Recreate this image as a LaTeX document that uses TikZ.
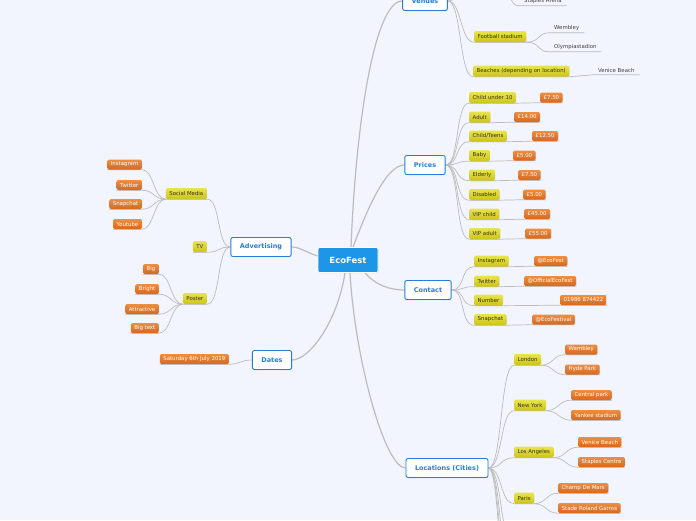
\documentclass[tikz,border=0pt]{standalone}
\usepackage{fontspec}
\setmainfont{DejaVu Sans}
\usetikzlibrary{shadows}

\definecolor{paper}{RGB}{242,245,253}
\definecolor{rootblue}{RGB}{30,150,232}
\definecolor{topicblue}{RGB}{40,125,220}
\definecolor{yellowtop}{RGB}{232,228,80}
\definecolor{yellowbot}{RGB}{205,196,22}
\definecolor{orangetop}{RGB}{238,142,64}
\definecolor{orangebot}{RGB}{212,104,32}
\definecolor{wire}{RGB}{188,188,188}
\definecolor{ink}{RGB}{55,50,20}

\pgfdeclarelayer{bg}
\pgfsetlayers{bg,main}

\tikzset{
    root/.style={fill=rootblue, draw=white, line width=0.6pt, rounded corners=2pt, minimum width=60pt, minimum height=25pt, text=white, font=\fontsize{8.5}{10}\selectfont\bfseries, drop shadow={opacity=0.15, shadow xshift=0.5pt, shadow yshift=-0.8pt}},
    topic/.style={fill=white, draw=topicblue, line width=0.9pt, rounded corners=2pt, minimum height=19pt, inner xsep=9pt, text=topicblue, font=\fontsize{6.5}{8}\selectfont\bfseries, drop shadow={opacity=0.15, shadow xshift=0.5pt, shadow yshift=-0.8pt}},
    sub/.style={top color=yellowtop, bottom color=yellowbot, rounded corners=1.5pt, minimum height=11pt, inner xsep=3.5pt, inner ysep=1pt, text=ink, font=\fontsize{5.4}{6}\selectfont, drop shadow={opacity=0.15, shadow xshift=0.4pt, shadow yshift=-0.6pt}},
    leaf/.style={top color=orangetop, bottom color=orangebot, rounded corners=1.5pt, minimum height=10pt, inner xsep=3.5pt, inner ysep=1pt, text=white, font=\fontsize{5.4}{6}\selectfont, drop shadow={opacity=0.15, shadow xshift=0.4pt, shadow yshift=-0.6pt}},
    plain/.style={inner xsep=5pt, inner ysep=2pt, text=black!75, font=\fontsize{5.4}{6}\selectfont},
    link/.style={draw=wire, line width=1.2pt},
    twig/.style={draw=wire, line width=0.7pt},
}

\begin{document}
\begin{tikzpicture}[x=1pt, y=-1pt]
    \begin{pgfonlayer}{bg}
        \fill[paper] (0,0) rectangle (696,520);
    \end{pgfonlayer}
    \useasboundingbox (0,0) rectangle (696,520);

    % main topics
    \node[root] (eco) at (348,260) {EcoFest};
    \node[topic] (venues) at (425,1) {Venues};
    \node[topic] (prices) at (425,165) {Prices};
    \node[topic] (contact) at (428,290) {Contact};
    \node[topic] (loc) at (447,468) {Locations (Cities)};
    \node[topic] (adv) at (261,247) {Advertising};
    \node[topic] (dates) at (272,360) {Dates};

    \begin{pgfonlayer}{bg}
        \draw[link] ([xshift=3pt]eco.north) .. controls (356,120) and (375,1) .. (venues.west);
        \draw[link] ([xshift=5pt]eco.north) .. controls (365,215) and (385,165) .. (prices.west);
        \draw[link] ([xshift=17pt]eco.south) .. controls (375,285) and (390,290) .. (contact.west);
        \draw[link] ([xshift=2pt]eco.south) .. controls (355,360) and (385,468) .. (loc.west);
        \draw[link] ([xshift=-3pt]eco.south) .. controls (338,320) and (310,360) .. (dates.east);
        \draw[link] ([yshift=4pt]eco.west) .. controls (305,252) and (300,247) .. (adv.east);
    \end{pgfonlayer}

    % venues
    \node[sub, anchor=west] (stadium) at (474,36.5) {Football stadium};
    \node[plain, anchor=west] (wembleyv) at (549,28) {Wembley};
    \node[plain, anchor=west] (olympia) at (549,47) {Olympiastadion};
    \node[sub, anchor=west] (beaches) at (473,71) {Beaches (depending on location)};
    \node[plain, anchor=west] (venicev) at (593,70.5) {Venice Beach};
    \node[plain, anchor=west] (arena) at (519,1) {Staples Arena};
    \coordinate (upper) at (480,-22);
    \coordinate (arenafrom) at (502,-10);

    \begin{pgfonlayer}{bg}
        \draw[twig] (venues.east) .. controls +(14,0) and +(-14,0) .. (upper);
        \draw[twig] (arenafrom) .. controls +(10,0) and +(-10,0) .. (arena.south west) -- (arena.south east);
        \draw[twig] (venues.east) .. controls +(14,0) and +(-14,0) .. (stadium.south west) -- (stadium.south east);
        \draw[twig] (stadium.south east) .. controls +(14,0) and +(-12,0) .. (wembleyv.south west) -- (wembleyv.south east);
        \draw[twig] (stadium.south east) .. controls +(14,0) and +(-12,0) .. (olympia.south west) -- (olympia.south east);
        \draw[twig] (venues.east) .. controls +(14,0) and +(-14,0) .. (beaches.south west) -- (beaches.south east) -- (venicev.south west) -- (venicev.south east);
    \end{pgfonlayer}

    % prices
    \foreach \n/\lab/\yy/\val/\vx in {a/Child under 10/97.5/£7.50/540, b/Adult/117/£14.00/514, c/{Child/Teens}/136/£12.50/532, d/Baby/155.5/£5.00/513, e/Elderly/175/£7.50/518, f/Disabled/194.5/£5.00/523, g/VIP child/214/£45.00/524, h/VIP adult/233.5/£55.00/525}{
        \node[sub, anchor=west] (p\n) at (469,\yy) {\lab};
        \node[leaf, anchor=west] (pv\n) at (\vx,\yy) {\val};
        \begin{pgfonlayer}{bg}
            \draw[twig] (prices.east) .. controls +(14,0) and +(-14,0) .. (p\n.south west) -- (p\n.south east) -- (pv\n.south west) -- (pv\n.south east);
        \end{pgfonlayer}
    }

    % contact
    \foreach \n/\lab/\yy/\val/\vx in {a/Instagram/261/@EcoFest/534, b/Twitter/281/@OfficialEcoFest/524, c/Number/300/01986 874422/560, d/Snapchat/319.5/@EcoFestival/532}{
        \node[sub, anchor=west] (c\n) at (474,\yy) {\lab};
        \node[leaf, anchor=west] (cv\n) at (\vx,\yy) {\val};
        \begin{pgfonlayer}{bg}
            \draw[twig] (contact.east) .. controls +(14,0) and +(-14,0) .. (c\n.south west) -- (c\n.south east) -- (cv\n.south west) -- (cv\n.south east);
        \end{pgfonlayer}
    }

    % locations
    \foreach \n/\lab/\yy/\one/\two/\vx in {a/London/359.5/Wembley/Hyde Park/565, b/New York/405/Central park/Yankee stadium/571, c/Los Angeles/452/Venice Beach/Staples Centre/578, d/Paris/498/Champ De Mars/Stade Roland Garros/558}{
        \node[sub, anchor=west] (l\n) at (514,\yy) {\lab};
        \node[leaf, anchor=west] (l\n1) at (\vx,\yy-10) {\one};
        \node[leaf, anchor=west] (l\n2) at (\vx,\yy+10) {\two};
        \begin{pgfonlayer}{bg}
            \draw[twig] (loc.east) .. controls +(14,0) and +(-14,0) .. (l\n.south west) -- (l\n.south east);
            \draw[twig] (l\n.south east) .. controls +(12,0) and +(-12,0) .. (l\n1.south west) -- (l\n1.south east);
            \draw[twig] (l\n.south east) .. controls +(12,0) and +(-12,0) .. (l\n2.south west) -- (l\n2.south east);
        \end{pgfonlayer}
    }
    \foreach \yy in {545,590,635,680}{
        \coordinate (more\yy) at (514,\yy);
        \begin{pgfonlayer}{bg}
            \draw[twig] (loc.east) .. controls +(14,0) and +(-14,0) .. (more\yy);
        \end{pgfonlayer}
    }

    % advertising
    \node[sub, anchor=east] (social) at (207,193.5) {Social Media};
    \node[sub, anchor=east] (tv) at (207,246.5) {TV};
    \node[sub, anchor=east] (poster) at (207,298.5) {Poster};
    \begin{pgfonlayer}{bg}
        \draw[twig] (adv.west) .. controls +(-14,0) and +(14,0) .. (social.south east) -- (social.south west);
        \draw[twig] (adv.west) .. controls +(-14,0) and +(14,0) .. (tv.south east) -- (tv.south west);
        \draw[twig] (adv.west) .. controls +(-14,0) and +(14,0) .. (poster.south east) -- (poster.south west);
    \end{pgfonlayer}
    \foreach \n/\lab/\yy in {a/Instagram/164.5, b/Twitter/185, c/Snapchat/204, d/Youtube/224}{
        \node[leaf, anchor=east] (s\n) at (142,\yy) {\lab};
        \begin{pgfonlayer}{bg}
            \draw[twig] (social.south west) .. controls +(-12,0) and +(12,0) .. (s\n.south east) -- (s\n.south west);
        \end{pgfonlayer}
    }
    \foreach \n/\lab/\yy in {a/Big/269, b/Bright/289, c/Attractive/309, d/Big text/328}{
        \node[leaf, anchor=east] (r\n) at (159,\yy) {\lab};
        \begin{pgfonlayer}{bg}
            \draw[twig] (poster.south west) .. controls +(-12,0) and +(12,0) .. (r\n.south east) -- (r\n.south west);
        \end{pgfonlayer}
    }

    % dates
    \node[leaf, anchor=east] (day) at (229,359) {Saturday 6th July 2019};
    \begin{pgfonlayer}{bg}
        \draw[twig] (dates.west) .. controls +(-12,0) and +(12,0) .. (day.south east) -- (day.south west);
    \end{pgfonlayer}
\end{tikzpicture}
\end{document}
